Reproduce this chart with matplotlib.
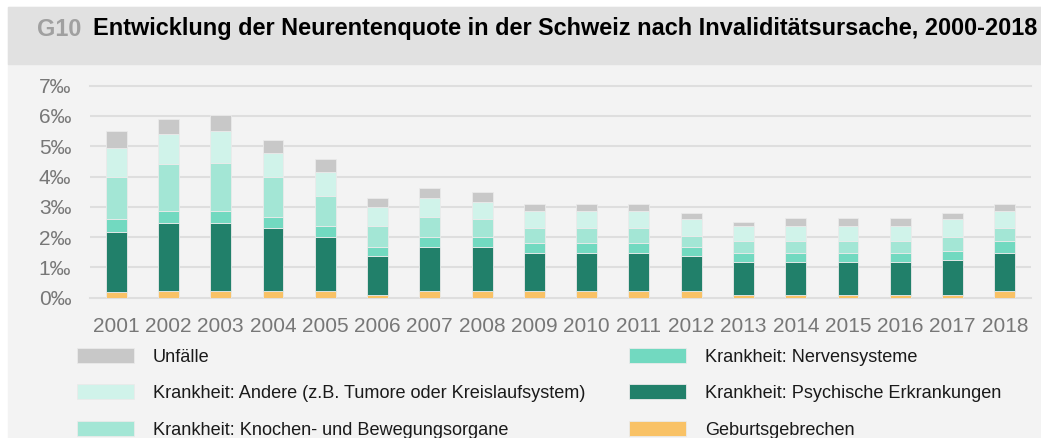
import matplotlib.pyplot as plt
from matplotlib.patches import Rectangle
import numpy as np

plt.rcParams['font.family'] = ['Liberation Sans', 'DejaVu Sans']

# ---------------------------------------------------------------------------
# Data (Neurentenquote in ‰)
# ---------------------------------------------------------------------------
years = [str(y) for y in range(2001, 2019)]

geburt = [0.20, 0.21, 0.21, 0.21, 0.21, 0.08, 0.21, 0.21, 0.21, 0.21, 0.21, 0.21,
          0.08, 0.08, 0.08, 0.08, 0.08, 0.21]
psych = [1.97, 2.27, 2.27, 2.09, 1.78, 1.30, 1.46, 1.46, 1.28, 1.28, 1.28, 1.17,
         1.10, 1.10, 1.10, 1.10, 1.16, 1.28]
nerven = [0.43, 0.38, 0.38, 0.37, 0.38, 0.29, 0.32, 0.32, 0.31, 0.31, 0.31, 0.29,
          0.31, 0.31, 0.31, 0.31, 0.30, 0.38]
knochen = [1.37, 1.54, 1.60, 1.30, 0.99, 0.70, 0.67, 0.61, 0.50, 0.50, 0.50, 0.38,
           0.38, 0.38, 0.38, 0.38, 0.45, 0.43]
andere = [0.98, 1.00, 1.06, 0.81, 0.80, 0.62, 0.63, 0.57, 0.56, 0.56, 0.56, 0.56,
          0.50, 0.50, 0.50, 0.50, 0.62, 0.56]
unfaelle = [0.56, 0.49, 0.50, 0.43, 0.43, 0.31, 0.32, 0.32, 0.25, 0.25, 0.25, 0.19,
            0.12, 0.25, 0.25, 0.25, 0.19, 0.25]

yticks = [0, 1, 2, 3, 4, 5, 6, 7]

# bottom -> top
series = [
    ("Geburtsgebrechen", geburt, "#f9c266"),
    ("Krankheit: Psychische Erkrankungen", psych, "#21806a"),
    ("Krankheit: Nervensysteme", nerven, "#72d9c0"),
    ("Krankheit: Knochen- und Bewegungsorgane", knochen, "#a3e6d5"),
    ("Krankheit: Andere (z.B. Tumore oder Kreislaufsystem)", andere, "#d0f3ea"),
    ("Unfälle", unfaelle, "#c8c8c8"),
]

W, H = 1041, 438
fig = plt.figure(figsize=(W / 100, H / 100), dpi=100)
fig.patch.set_facecolor("white")

# panel + title band (pixel coords, origin top-left)
def px_rect(x0, y0, x1, y1, color):
    fig.patches.append(Rectangle((x0 / W, 1 - y1 / H), (x1 - x0) / W, (y1 - y0) / H,
                                 transform=fig.transFigure, color=color, zorder=-5))

px_rect(8, 7, W, H, "#f3f3f3")
px_rect(8, 7, W, 64, "#e1e1e1")

fig.text(37 / W, 1 - 29 / H, "G10", fontsize=16.9, fontweight="bold", color="#a0a0a0",
         va="center", ha="left")
fig.text(93 / W, 1 - 29 / H,
         "Entwicklung der Neurentenquote in der Schweiz nach Invaliditätsursache, 2000-2018",
         fontsize=16.9, fontweight="bold", color="black", va="center", ha="left")

ax = fig.add_axes([90 / W, 1 - 297.7 / H, (1031 - 90) / W, (297.7 - 85.7) / H])
ax.set_facecolor("none")
ax.set_zorder(2)

x = np.arange(len(years))
bottom = np.zeros(len(years))
handles = {}
for label, vals, color in series:
    b = ax.bar(x, vals, width=0.4, bottom=bottom, color=color, edgecolor="#eaeaea",
               linewidth=0.6, label=label, zorder=3)
    handles[label] = b
    bottom += np.array(vals)

ax.set_xlim(-0.5, len(years) - 0.5)
ax.set_ylim(0, 7)
ax.set_yticks(yticks)
ax.set_yticklabels([f"{t}‰" for t in yticks])
ax.set_xticks(x)
ax.set_xticklabels(years)
ax.tick_params(axis="y", length=0, pad=13.5, labelsize=15, labelcolor="#777777")
ax.tick_params(axis="x", length=0, pad=14, labelsize=15, labelcolor="#777777")
ax.grid(axis="y", color="#dedede", linewidth=1.5, zorder=0)
ax.set_axisbelow(True)
for s in ax.spines.values():
    s.set_visible(False)
ax.yaxis.get_gridlines()[-1].set_clip_on(False)
ax.yaxis.get_gridlines()[0].set_clip_on(False)

order = ["Unfälle",
         "Krankheit: Andere (z.B. Tumore oder Kreislaufsystem)",
         "Krankheit: Knochen- und Bewegungsorgane",
         "Krankheit: Nervensysteme",
         "Krankheit: Psychische Erkrankungen",
         "Geburtsgebrechen"]
leg = fig.legend([handles[k] for k in order], order, ncol=2, frameon=False,
                 loc="upper left", bbox_to_anchor=(77 / W, 1 - 348 / H),
                 fontsize=13.1, handlelength=3.13, handleheight=0.88,
                 handletextpad=1.04, columnspacing=2.4, labelspacing=1.03,
                 borderaxespad=0, borderpad=0)
for t in leg.get_texts():
    t.set_color("#1a1a1a")

fig.savefig("out.png", dpi=100, facecolor=fig.get_facecolor())
